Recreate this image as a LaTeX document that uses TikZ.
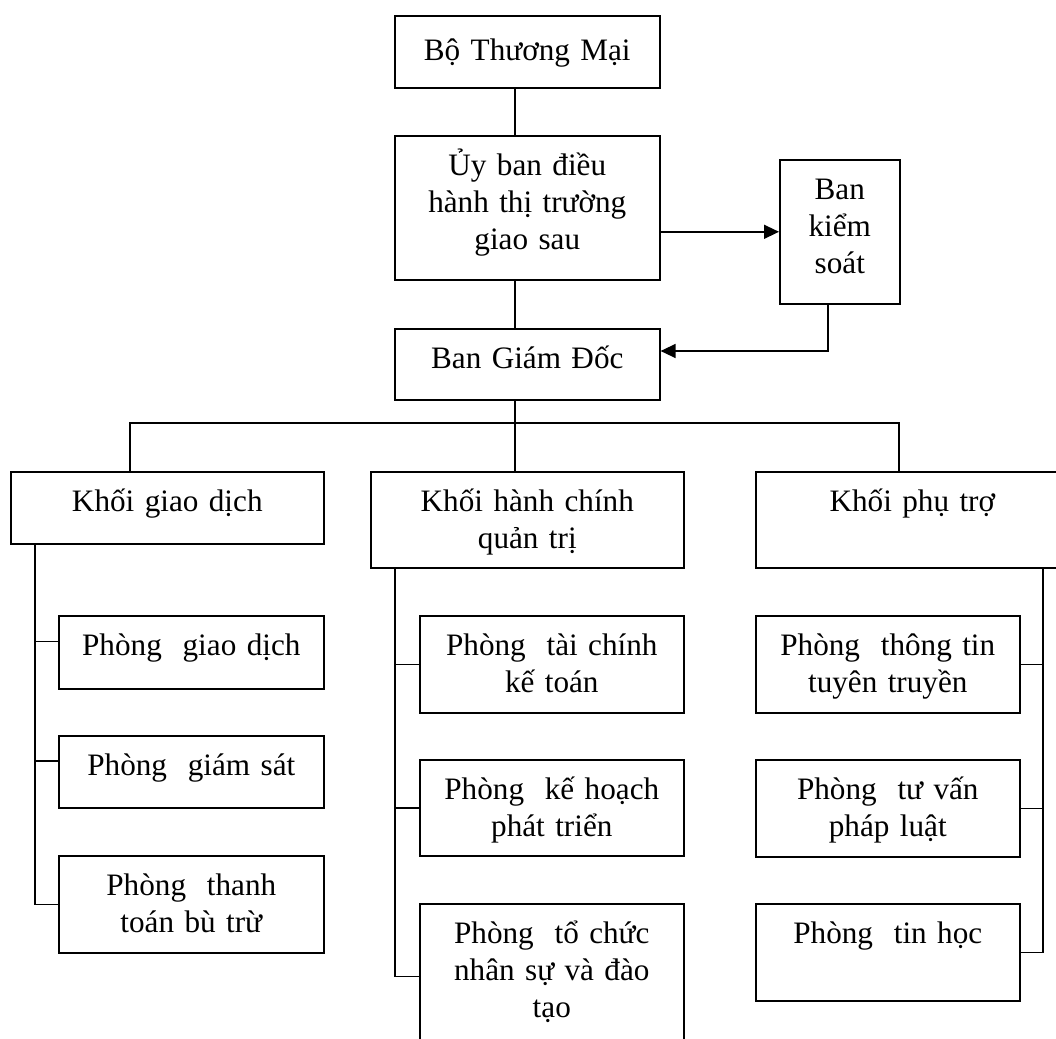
\documentclass[tikz,border=0pt]{standalone}
\usepackage{fontspec}
\setmainfont{Liberation Serif}
\usetikzlibrary{arrows.meta}

\tikzset{
  unit/.style={draw, line width=0.8pt, anchor=north west, align=center, inner sep=0pt,
    font=\fontsize{15.6pt}{18.4pt}\selectfont, text height=20pt},
  conn/.style={line width=0.7pt},
  arrowconn/.style={conn, -{Triangle[length=7.5pt, width=7pt]}}
}

\begin{document}
\begin{tikzpicture}[x=0.5pt, y=-0.5pt]

\useasboundingbox (0,0) rectangle (1056,1039);
\clip (0,0) rectangle (1056,1039);

\node[unit, text width=132.5pt, text height=22.5pt, text depth=13.5pt] (bo) at (394,15) {Bộ Thương Mại};
\node[unit, text width=132.5pt, text depth=52pt] (uyban) at (394,135) {Ủy ban điều\\hành thị trường\\giao sau};
\node[unit, text width=60pt, text depth=52pt] (bks) at (779,159) {Ban\\kiểm\\soát};
\node[unit, text width=132.5pt, text depth=15.5pt] (bgd) at (394,328) {Ban Giám Đốc};

\node[unit, text width=156.5pt, text depth=16pt] (kgd) at (10,471) {Khối giao dịch};
\node[unit, text width=156.5pt, text depth=28pt] (khc) at (370,471) {Khối hành chính\\quản trị};
\node[unit, text width=156.5pt, text depth=28pt] (kpt) at (755,471) {Khối phụ trợ};

\node[unit, text width=132.5pt, text depth=16.5pt] (pgd) at (58,615) {Phòng~~giao dịch};
\node[unit, text width=132.5pt, text depth=16pt] (pgs) at (58,735) {Phòng~~giám sát};
\node[unit, text width=132.5pt, text depth=28.5pt] (pttbt) at (58,855) {Phòng~~thanh\\toán bù trừ};

\node[unit, text width=132pt, text depth=28.5pt] (ptckt) at (419,615) {Phòng~~tài chính\\kế toán};
\node[unit, text width=132pt, text depth=28pt] (pkh) at (419,759) {Phòng~~kế hoạch\\phát triển};
\node[unit, text width=132pt, text depth=52.5pt] (ptc) at (419,903) {Phòng~~tổ chức\\nhân sự và đào\\tạo};

\node[unit, text width=132pt, text depth=28.5pt] (ptt) at (755,615) {Phòng~~thông tin\\tuyên truyền};
\node[unit, text width=132pt, text depth=28.5pt] (ptv) at (755,759) {Phòng~~tư vấn\\pháp luật};
\node[unit, text width=132pt, text depth=28.5pt] (pth) at (755,903) {Phòng~~tin học};

\coordinate (fork) at (515,423);
\coordinate (forkL) at (130,423);
\coordinate (forkR) at (899,423);
\coordinate (back) at (828,351);
\coordinate (spL) at (35,0);
\coordinate (spM) at (395,0);
\coordinate (spR) at (1043,0);

\draw[conn] (bo.south -| fork) -- (uyban.north -| fork);
\draw[conn] (uyban.south -| fork) -- (bgd.north -| fork);
\draw[conn] (bgd.south -| fork) -- (khc.north -| fork);
\draw[conn] (kgd.north -| forkL) -- (forkL) -- (forkR) -- (kpt.north -| forkR);

\draw[arrowconn] (uyban.east |- bks.west) -- (bks.west);
\draw[arrowconn] (bks.south -| back) |- (bgd.east |- back);

\draw[conn] (kgd.south -| spL) |- (pttbt.west);
\foreach \n in {pgd, pgs}
  \draw[conn] ([yshift=5.5pt]\n.west) -- ([yshift=5.5pt]\n.west -| spL);

\draw[conn] (khc.south -| spM) |- (ptc.west);
\foreach \n in {ptckt, pkh}
  \draw[conn] (\n.west) -- (\n.west -| spM);

\draw[conn] (kpt.south -| spR) |- (pth.east);
\foreach \n in {ptt, ptv}
  \draw[conn] (\n.east) -- (\n.east -| spR);

\end{tikzpicture}
\end{document}
